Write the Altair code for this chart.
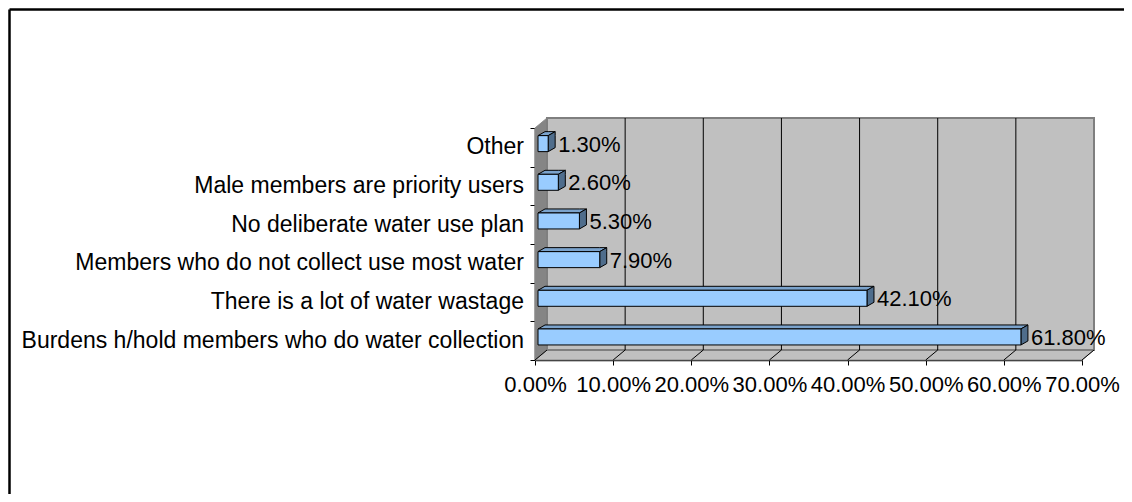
import altair as alt
import pandas as pd

# ---------------- data ----------------
categories = [
    "Burdens h/hold members who do water collection",
    "There is a lot of water wastage",
    "Members who do not collect use most water",
    "No deliberate water use plan",
    "Male members are priority users",
    "Other",
]
values = [61.8, 42.1, 7.9, 5.3, 2.6, 1.3]
x_ticks = [0, 10, 20, 30, 40, 50, 60, 70]

# ---------------- layout / style ----------------
W, H = 547, 232
PAD_L, PAD_T = 527, 120
PAD_R = 1116 - PAD_L - W
PAD_B = 486 - PAD_T - H
X_MAX = 70
N = len(categories)
WALL_DX, WALL_DY = 12, 10        # px depth of the 3D box
BAR_DX, BAR_DY = 7, 4            # px depth of the bars
BAR_H = 16                       # px bar front height
BAR_SX, BAR_SY = 3, 3.7          # px shift of bar front face
FONT = "Liberation Sans"
FS = 22
FS_CAT = 23

ux = X_MAX / W
uy = N / H

XS = alt.Scale(domain=[0, X_MAX], nice=False, zero=False)
YS = alt.Scale(domain=[0, N], nice=False, zero=False)
XAXIS = alt.Axis(values=x_ticks, labelExpr="format(datum.value/100, '.2%')",
                 tickSize=5, labelFontSize=FS, labelFont=FONT, labelColor="black",
                 domainColor="black", tickColor="black", grid=False, labelPadding=9,
                 labelFlush=False, labelOverlap=False, title=None, domainWidth=1.5)
YAXIS = alt.Axis(values=list(range(N + 1)), labels=False, tickSize=5,
                 domainColor="black", tickColor="black", grid=False, title=None,
                 domainWidth=1.5)


def X(f):
    return alt.X(f, type="quantitative", scale=XS, axis=XAXIS)


def Y(f):
    return alt.Y(f, type="quantitative", scale=YS, axis=YAXIS)


# ---------------- derived tables ----------------
dxu, dyu = WALL_DX * ux, WALL_DY * uy
side_wall = pd.DataFrame({"x": [0, dxu], "ylo": [0, dyu], "yhi": [N, N + dyu]})
floor = pd.DataFrame({"y": [0, dyu], "xlo": [0, dxu], "xhi": [X_MAX, X_MAX + dxu]})
wall = pd.DataFrame({"x0": [0], "x1": [X_MAX], "y0": [0], "y1": [N]})
grid = pd.DataFrame({"v": x_ticks[1:-1], "y0": 0, "y1": N})
diag = pd.DataFrame({"v": x_ticks, "y0": 0})

sx, sy = BAR_SX * ux, BAR_SY * uy
bdx, bdy = BAR_DX * ux, BAR_DY * uy
hh = BAR_H / 2 * uy
front_rows, top_rows, side_rows = [], [], []
for i, (c, v) in enumerate(zip(categories, values)):
    cy = i + 0.5 + sy
    lo, hi = cy - hh, cy + hh
    x0, x1 = sx, v + sx
    front_rows.append({"id": i, "x0": x0, "x1": x1, "y0": lo, "y1": hi,
                       "cy": cy, "v": v, "lab": f"{v:.2f}%", "cat": c, "yc": i + 0.5})
    for px, a, b in [(x0, hi, hi), (x0 + bdx, hi, hi + bdy),
                     (x1, hi, hi + bdy), (x1 + bdx, hi + bdy, hi + bdy)]:
        top_rows.append({"id": i, "x": px, "ylo": a, "yhi": b})
    for py, a, b in [(lo, x1, x1), (lo + bdy, x1, x1 + bdx),
                     (hi, x1, x1 + bdx), (hi + bdy, x1 + bdx, x1 + bdx)]:
        side_rows.append({"id": i, "y": py, "xlo": a, "xhi": b})
bars = pd.DataFrame(front_rows)
tops = pd.DataFrame(top_rows)
sides = pd.DataFrame(side_rows)

# ---------------- layers ----------------
l_floor = alt.Chart(floor).mark_area(orient="horizontal", color="#C0C0C0",
                                     stroke="#8A8A8A", strokeWidth=1).encode(
    y=Y("y"), x=X("xlo"), x2="xhi")
l_side = alt.Chart(side_wall).mark_area(orient="vertical", color="#858585",
                                        stroke="#8A8A8A", strokeWidth=1).encode(
    x=X("x"), y=Y("ylo"), y2="yhi")
l_wall = alt.Chart(wall).mark_rect(color="#C0C0C0", stroke="#7F7F7F", strokeWidth=2,
                                   xOffset=WALL_DX, x2Offset=WALL_DX,
                                   yOffset=-WALL_DY, y2Offset=-WALL_DY).encode(
    x=X("x0"), x2="x1", y=Y("y0"), y2="y1")
l_grid = alt.Chart(grid).mark_rule(color="black", strokeWidth=1,
                                   xOffset=WALL_DX, yOffset=-WALL_DY,
                                   y2Offset=-WALL_DY).encode(
    x=X("v"), y=Y("y0"), y2="y1")
l_diag = alt.Chart(diag).mark_rule(color="black", strokeWidth=1,
                                   x2Offset=WALL_DX, y2Offset=-WALL_DY).encode(
    x=X("v"), x2="v", y=Y("y0"), y2="y0")
l_top = alt.Chart(tops).mark_area(orient="vertical", color="#7BA3CC",
                                  stroke="black", strokeWidth=1).encode(
    x=X("x"), y=Y("ylo"), y2="yhi", detail="id:N")
l_sidef = alt.Chart(sides).mark_area(orient="horizontal", color="#4F6D8C",
                                     stroke="black", strokeWidth=1).encode(
    y=Y("y"), x=X("xlo"), x2="xhi", detail="id:N")
l_front = alt.Chart(bars).mark_rect(color="#99CCFF", stroke="black",
                                    strokeWidth=1).encode(
    x=X("x0"), x2="x1", y=Y("y0"), y2="y1")
l_vlab = alt.Chart(bars).mark_text(align="left", baseline="middle", font=FONT,
                                   fontSize=FS, color="black", xOffset=13,
                                   yOffset=1).encode(
    x=X("v"), y=Y("cy"), text="lab:N")
l_cat = alt.Chart(bars).mark_text(align="right", baseline="middle", font=FONT,
                                  fontSize=FS_CAT, color="black").encode(
    x=alt.value(-11), y=Y("yc"), text="cat:N")
l_bord_t = alt.Chart(wall).mark_rule(color="black", strokeWidth=2.5).encode(
    x=alt.value(-PAD_L + 1.5), x2=alt.value(W + PAD_R + 10), y=alt.value(-PAD_T + 1.5))
l_bord_l = alt.Chart(wall).mark_rule(color="black", strokeWidth=2.5).encode(
    x=alt.value(-PAD_L + 1.5), y=alt.value(-PAD_T + 1.5), y2=alt.value(H + PAD_B + 10))

chart = alt.layer(
    l_floor, l_side, l_wall, l_grid, l_diag, l_top, l_sidef, l_front,
    l_vlab, l_cat, l_bord_t, l_bord_l
).properties(
    width=W, height=H,
    autosize=alt.AutoSizeParams(type="none"),
    padding={"left": PAD_L, "top": PAD_T, "right": PAD_R, "bottom": PAD_B},
    background="white",
).configure_view(stroke=None)

chart.save("out.html", embed_options={"renderer": "svg", "actions": False})
